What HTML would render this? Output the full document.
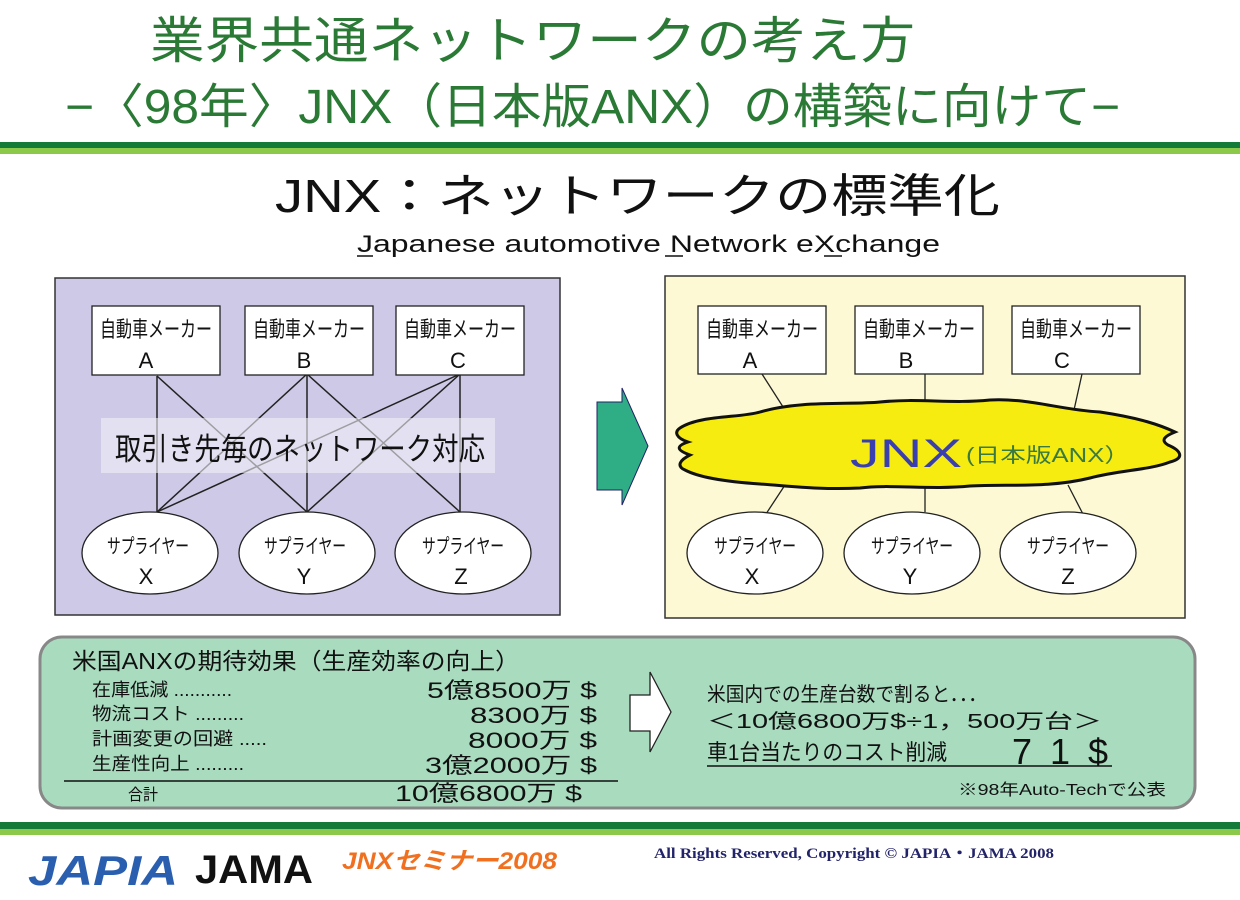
<!DOCTYPE html>
<html><head><meta charset="utf-8">
<style>
html,body{margin:0;padding:0;background:#fff;}
svg{display:block;}
text{font-family:"Liberation Sans","Noto Sans CJK JP",sans-serif;}
</style></head>
<body>
<svg width="1240" height="900" viewBox="0 0 1240 900" xmlns="http://www.w3.org/2000/svg">
<rect width="1240" height="900" fill="#fff"/>
<!-- titles -->
<text x="150" y="58" font-size="50" fill="#2a7a35" textLength="765" lengthAdjust="spacingAndGlyphs">業界共通ネットワークの考え方</text>
<text x="65" y="123" font-size="48" fill="#2a7a35" textLength="1055" lengthAdjust="spacingAndGlyphs">−〈98年〉JNX（日本版ANX）の構築に向けて−</text>
<rect x="0" y="142" width="1240" height="6" fill="#147a3a"/>
<rect x="0" y="148" width="1240" height="6" fill="#8cc84a"/>
<text x="275" y="212" font-size="46" fill="#111" textLength="725" lengthAdjust="spacingAndGlyphs">JNX：ネットワークの標準化</text>
<text x="357" y="252" font-size="24" fill="#111" textLength="583" lengthAdjust="spacingAndGlyphs">Japanese automotive Network eXchange</text>
<line x1="357" y1="256" x2="373" y2="256" stroke="#111" stroke-width="1.5"/>
<line x1="665" y1="256" x2="683" y2="256" stroke="#111" stroke-width="1.5"/>
<line x1="824" y1="256" x2="842" y2="256" stroke="#111" stroke-width="1.5"/>

<!-- left panel -->
<rect x="55" y="278" width="505" height="337" fill="#cdc9e6" stroke="#333" stroke-width="1.5"/>
<g stroke="#222" stroke-width="1.5">
<line x1="157" y1="376" x2="157" y2="512"/><line x1="157" y1="376" x2="307" y2="512"/>
<line x1="307" y1="374" x2="157" y2="512"/><line x1="307" y1="374" x2="307" y2="512"/><line x1="307" y1="374" x2="460" y2="512"/>
<line x1="460" y1="374" x2="157" y2="512"/><line x1="460" y1="374" x2="307" y2="512"/><line x1="460" y1="374" x2="460" y2="512"/>
</g>
<rect x="101" y="418" width="394" height="55" fill="#f2f1f8" fill-opacity="0.6"/>
<text x="115" y="460" font-size="31" fill="#111" textLength="370" lengthAdjust="spacingAndGlyphs">取引き先毎のネットワーク対応</text>
<g fill="#fff" stroke="#222" stroke-width="1.3">
<rect x="92" y="306" width="128" height="69"/><rect x="245" y="306" width="128" height="69"/><rect x="396" y="306" width="128" height="69"/>
<ellipse cx="150" cy="553" rx="68" ry="41"/><ellipse cx="307" cy="553" rx="68" ry="41"/><ellipse cx="463" cy="553" rx="68" ry="41"/>
</g>
<g font-size="22" fill="#111" text-anchor="middle">
<text x="156" y="337" textLength="112" lengthAdjust="spacingAndGlyphs">自動車メーカー</text><text x="146" y="368">A</text>
<text x="309" y="337" textLength="112" lengthAdjust="spacingAndGlyphs">自動車メーカー</text><text x="304" y="368">B</text>
<text x="460" y="337" textLength="112" lengthAdjust="spacingAndGlyphs">自動車メーカー</text><text x="458" y="368">C</text>
<text x="148" y="553" font-size="20" textLength="82" lengthAdjust="spacingAndGlyphs">サプライヤー</text><text x="146" y="584">X</text>
<text x="305" y="553" font-size="20" textLength="82" lengthAdjust="spacingAndGlyphs">サプライヤー</text><text x="304" y="584">Y</text>
<text x="463" y="553" font-size="20" textLength="82" lengthAdjust="spacingAndGlyphs">サプライヤー</text><text x="461" y="584">Z</text>
</g>

<!-- arrow -->
<polygon points="597,402 622,402 622,388 648,446 622,505 622,490 597,490" fill="#2fae86" stroke="#226" stroke-width="1"/>

<!-- right panel -->
<rect x="665" y="276" width="520" height="342" fill="#fcf9d4" stroke="#333" stroke-width="1.5"/>
<g stroke="#222" stroke-width="1.3">
<line x1="762" y1="374" x2="785" y2="410"/><line x1="925" y1="374" x2="925" y2="410"/><line x1="1082" y1="374" x2="1074" y2="410"/>
<line x1="785" y1="485" x2="762" y2="520"/><line x1="925" y1="485" x2="925" y2="512"/><line x1="1068" y1="485" x2="1085" y2="518"/>
</g>
<path d="M680,428 C700,415 740,418 760,412 C800,400 850,405 880,402 C920,398 950,404 990,400 C1030,398 1060,410 1100,412 C1140,418 1160,425 1175,432 C1165,436 1160,440 1168,445 C1180,450 1186,458 1170,462 C1150,470 1120,470 1090,478 C1050,488 1010,484 970,486 C930,490 890,484 860,488 C820,490 790,486 760,484 C730,482 700,478 685,470 C676,466 680,460 690,455 C676,450 676,446 688,442 C676,438 674,432 680,428 Z" fill="#f6ec10" stroke="#111" stroke-width="3"/>
<text x="850" y="467" font-size="40" fill="#3a3fb0" textLength="112" lengthAdjust="spacingAndGlyphs">JNX</text>
<text x="966" y="462" font-size="20" fill="#3a7a40" textLength="164" lengthAdjust="spacingAndGlyphs">(日本版ANX）</text>
<g fill="#fff" stroke="#222" stroke-width="1.3">
<rect x="698" y="306" width="128" height="68"/><rect x="855" y="306" width="128" height="68"/><rect x="1012" y="306" width="128" height="68"/>
<ellipse cx="755" cy="553" rx="68" ry="41"/><ellipse cx="912" cy="553" rx="68" ry="41"/><ellipse cx="1068" cy="553" rx="68" ry="41"/>
</g>
<g font-size="22" fill="#111" text-anchor="middle">
<text x="762" y="337" textLength="112" lengthAdjust="spacingAndGlyphs">自動車メーカー</text><text x="750" y="368">A</text>
<text x="919" y="337" textLength="112" lengthAdjust="spacingAndGlyphs">自動車メーカー</text><text x="906" y="368">B</text>
<text x="1076" y="337" textLength="112" lengthAdjust="spacingAndGlyphs">自動車メーカー</text><text x="1062" y="368">C</text>
<text x="755" y="553" font-size="20" textLength="82" lengthAdjust="spacingAndGlyphs">サプライヤー</text><text x="752" y="584">X</text>
<text x="912" y="553" font-size="20" textLength="82" lengthAdjust="spacingAndGlyphs">サプライヤー</text><text x="910" y="584">Y</text>
<text x="1068" y="553" font-size="20" textLength="82" lengthAdjust="spacingAndGlyphs">サプライヤー</text><text x="1068" y="584">Z</text>
</g>

<!-- bottom box -->
<rect x="40" y="637" width="1155" height="171" rx="22" fill="#a9dbbf" stroke="#888" stroke-width="3"/>
<g fill="#111">
<text x="72" y="669" font-size="23" textLength="448" lengthAdjust="spacingAndGlyphs">米国ANXの期待効果（生産効率の向上）</text>
<text x="92" y="696" font-size="18" textLength="140" lengthAdjust="spacingAndGlyphs">在庫低減 ...........</text>
<text x="92" y="720" font-size="18" textLength="152" lengthAdjust="spacingAndGlyphs">物流コスト .........</text>
<text x="92" y="745" font-size="18" textLength="175" lengthAdjust="spacingAndGlyphs">計画変更の回避 .....</text>
<text x="92" y="770" font-size="18" textLength="152" lengthAdjust="spacingAndGlyphs">生産性向上 .........</text>
<text x="128" y="800" font-size="16" textLength="30" lengthAdjust="spacingAndGlyphs">合計</text>
<g font-size="22" lengthAdjust="spacingAndGlyphs">
<text x="427" y="698" textLength="170" lengthAdjust="spacingAndGlyphs">5億8500万 $</text>
<text x="470" y="723" textLength="127" lengthAdjust="spacingAndGlyphs">8300万 $</text>
<text x="468" y="748" textLength="129" lengthAdjust="spacingAndGlyphs">8000万 $</text>
<text x="425" y="773" textLength="172" lengthAdjust="spacingAndGlyphs">3億2000万 $</text>
<text x="395" y="801" textLength="187" lengthAdjust="spacingAndGlyphs">10億6800万 $</text>
</g>
<line x1="64" y1="781" x2="618" y2="781" stroke="#111" stroke-width="1.5"/>
</g>
<polygon points="630,695 650,695 650,672 671,712 650,752 650,731 630,731" fill="#fff" stroke="#222" stroke-width="1.3"/>
<g fill="#111">
<text x="707" y="701" font-size="20" textLength="280" lengthAdjust="spacingAndGlyphs">米国内での生産台数で割ると．．．</text>
<text x="707" y="728" font-size="20" textLength="395" lengthAdjust="spacingAndGlyphs">＜10億6800万$÷1，500万台＞</text>
<text x="707" y="760" font-size="22" textLength="240" lengthAdjust="spacingAndGlyphs">車1台当たりのコスト削減</text>
<text x="1012" y="764" font-size="36" textLength="96" lengthAdjust="spacing" font-weight="normal">7 1 $</text>
<line x1="707" y1="766" x2="1112" y2="766" stroke="#111" stroke-width="1.5"/>
<text x="958" y="795" font-size="16" textLength="208" lengthAdjust="spacingAndGlyphs">※98年Auto-Techで公表</text>
</g>

<!-- footer -->
<rect x="0" y="822" width="1240" height="7" fill="#147a3a"/>
<rect x="0" y="829" width="1240" height="6" fill="#8cc84a"/>
<text x="28" y="885" font-size="42" font-weight="bold" font-style="italic" fill="#2a5fb0" textLength="150" lengthAdjust="spacingAndGlyphs">JAPIA</text>
<text x="195" y="883" font-size="40" font-weight="bold" fill="#111" textLength="118" lengthAdjust="spacingAndGlyphs">JAMA</text>
<text x="342" y="869" font-size="24" font-weight="bold" font-style="italic" fill="#f07020" textLength="215" lengthAdjust="spacingAndGlyphs">JNXセミナー2008</text>
<text x="654" y="858" font-size="15" font-weight="bold" fill="#23236a" textLength="400" lengthAdjust="spacingAndGlyphs" style="font-family:'Liberation Serif',serif">All Rights Reserved, Copyright © JAPIA・JAMA 2008</text>
</svg>
</body></html>
